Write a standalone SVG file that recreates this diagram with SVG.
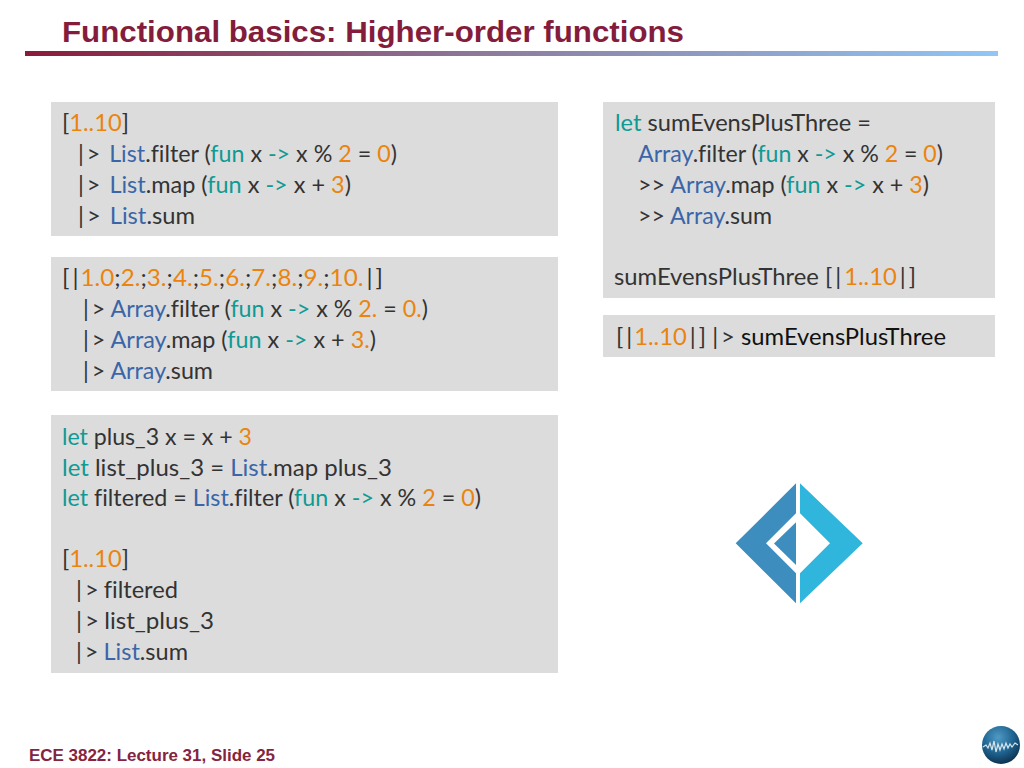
<svg xmlns="http://www.w3.org/2000/svg" width="1024" height="768" viewBox="0 0 1024 768">
<style>
.t{font-family:"Liberation Sans",Arial,sans-serif;font-weight:bold}
.c{font-family:Lato,"Open Sans",sans-serif;font-size:24px;fill:#333;font-variant-ligatures:none}
.b{fill:#dcdcdc}
.n{fill:#ea840f}.k{fill:#0f9a94}.m{fill:#3a66a8}.d{fill:#111}
</style>
<defs>
<linearGradient id="rule"><stop offset="0" stop-color="#8b1a3a"/><stop offset="0.5" stop-color="#8d7fa2"/><stop offset="1" stop-color="#90c6f6"/></linearGradient>
<radialGradient id="globe" cx="0.42" cy="0.3" r="0.75"><stop offset="0" stop-color="#4f9ac4"/><stop offset="0.55" stop-color="#1f6390"/><stop offset="1" stop-color="#0a2c46"/></radialGradient>
</defs>
<rect width="1024" height="768" fill="#fff"/>
<g id="title">
<text class="t" x="62" y="42" font-size="30" fill="#841c3c" textLength="622" lengthAdjust="spacingAndGlyphs">Functional basics: Higher-order functions</text>
<rect x="25" y="51" width="973" height="5" fill="url(#rule)"/>
</g>
<g id="box1">
<rect class="b" x="51" y="102" width="507" height="134"/>
<text class="c" x="62" y="131" textLength="67" lengthAdjust="spacingAndGlyphs">[<tspan class="n">1..10</tspan>]</text>
<text class="c" x="78" y="162" textLength="319" lengthAdjust="spacingAndGlyphs">|<tspan dx="3">&gt;</tspan> <tspan class="m" dx="3">List</tspan>.filter (<tspan class="k">fun</tspan> x <tspan class="k">-&gt;</tspan> x % <tspan class="n">2</tspan> = <tspan class="n">0</tspan>)</text>
<text class="c" x="78" y="193" textLength="273" lengthAdjust="spacingAndGlyphs">|<tspan dx="3">&gt;</tspan> <tspan class="m" dx="3">List</tspan>.map (<tspan class="k">fun</tspan> x <tspan class="k">-&gt;</tspan> x + <tspan class="n">3</tspan>)</text>
<text class="c" x="78" y="224" textLength="117" lengthAdjust="spacingAndGlyphs">|<tspan dx="3">&gt;</tspan> <tspan class="m" dx="3">List</tspan>.sum</text>
</g>
<g id="box2">
<rect class="b" x="51" y="257" width="507" height="134"/>
<text class="c" x="62" y="286" textLength="321" lengthAdjust="spacingAndGlyphs">[<tspan dx="3">|</tspan><tspan class="n" dx="2">1.0</tspan>;<tspan class="n">2.</tspan>;<tspan class="n">3.</tspan>;<tspan class="n">4.</tspan>;<tspan class="n">5.</tspan>;<tspan class="n">6.</tspan>;<tspan class="n">7.</tspan>;<tspan class="n">8.</tspan>;<tspan class="n">9.</tspan>;<tspan class="n">10.</tspan><tspan dx="3">|</tspan><tspan dx="3">]</tspan></text>
<text class="c" x="83" y="317" textLength="345" lengthAdjust="spacingAndGlyphs">|<tspan dx="3">&gt;</tspan> <tspan class="m">Array</tspan>.filter (<tspan class="k">fun</tspan> x <tspan class="k">-&gt;</tspan> x % <tspan class="n">2.</tspan> = <tspan class="n">0.</tspan>)</text>
<text class="c" x="83" y="348" textLength="293" lengthAdjust="spacingAndGlyphs">|<tspan dx="3">&gt;</tspan> <tspan class="m">Array</tspan>.map (<tspan class="k">fun</tspan> x <tspan class="k">-&gt;</tspan> x + <tspan class="n">3.</tspan>)</text>
<text class="c" x="83" y="379" textLength="130" lengthAdjust="spacingAndGlyphs">|<tspan dx="3">&gt;</tspan> <tspan class="m">Array</tspan>.sum</text>
</g>
<g id="box3">
<rect class="b" x="51" y="415" width="507" height="258"/>
<text class="c" x="62" y="445" textLength="190" lengthAdjust="spacingAndGlyphs"><tspan class="k">let</tspan> plus_3 x = x + <tspan class="n">3</tspan></text>
<text class="c" x="62" y="476" textLength="330" lengthAdjust="spacingAndGlyphs"><tspan class="k">let</tspan> list_plus_3 = <tspan class="m">List</tspan>.map plus_3</text>
<text class="c" x="62" y="506" textLength="419" lengthAdjust="spacingAndGlyphs"><tspan class="k">let</tspan> filtered = <tspan class="m">List</tspan>.filter (<tspan class="k">fun</tspan> x <tspan class="k">-&gt;</tspan> x % <tspan class="n">2</tspan> = <tspan class="n">0</tspan>)</text>
<text class="c" x="62" y="567" textLength="67" lengthAdjust="spacingAndGlyphs">[<tspan class="n">1..10</tspan>]</text>
<text class="c" x="76" y="598" textLength="102" lengthAdjust="spacingAndGlyphs">|<tspan dx="3">&gt;</tspan> <tspan dx="-1">filtered</tspan></text>
<text class="c" x="76" y="629" textLength="138" lengthAdjust="spacingAndGlyphs">|<tspan dx="3">&gt;</tspan> <tspan dx="-1">list_plus_3</tspan></text>
<text class="c" x="76" y="660" textLength="112" lengthAdjust="spacingAndGlyphs">|<tspan dx="3">&gt;</tspan> <tspan class="m" dx="-1">List</tspan>.sum</text>
</g>
<g id="box4">
<rect class="b" x="603" y="102" width="392" height="196"/>
<text class="c" x="615" y="131" textLength="256" lengthAdjust="spacingAndGlyphs"><tspan class="k">let</tspan> sumEvensPlusThree =</text>
<text class="c" x="638" y="162" textLength="305" lengthAdjust="spacingAndGlyphs"><tspan class="m">Array</tspan>.filter (<tspan class="k">fun</tspan> x <tspan class="k">-&gt;</tspan> x % <tspan class="n">2</tspan> = <tspan class="n">0</tspan>)</text>
<text class="c" x="638" y="193" textLength="291" lengthAdjust="spacingAndGlyphs">&gt;&gt; <tspan class="m">Array</tspan>.map (<tspan class="k">fun</tspan> x <tspan class="k">-&gt;</tspan> x + <tspan class="n">3</tspan>)</text>
<text class="c" x="638" y="224" textLength="134" lengthAdjust="spacingAndGlyphs">&gt;&gt; <tspan class="m">Array</tspan>.sum</text>
<text class="c" x="614" y="285" textLength="302" lengthAdjust="spacingAndGlyphs">sumEvensPlusThree [<tspan dx="3">|</tspan><tspan class="n" dx="3">1..10</tspan><tspan dx="3">|</tspan><tspan dx="3">]</tspan></text>
</g>
<g id="box5">
<rect class="b" x="603" y="315" width="392" height="42"/>
<text class="c" x="616" y="345" textLength="330" lengthAdjust="spacingAndGlyphs">[<tspan dx="3">|</tspan><tspan class="n" dx="2">1..10</tspan><tspan dx="3">|</tspan><tspan dx="3">]</tspan> |<tspan dx="3">&gt;</tspan> <tspan class="d">sumEvensPlusThree</tspan></text>
</g>
<g id="fsharp-logo">
<path fill="#3d8ebf" d="M796 483.3L735.7 543.3L796 603.3V573.3L766 543.3L796 513.3Z"/>
<path fill="#3d8ebf" d="M796 522.3L774 543.5L796 565Z"/>
<path fill="#30b5dc" d="M800 483.3L862.7 543.3L800 603.3V573.3L830 543.3L800 513.3Z"/>
</g>
<g id="footer">
<text class="t" x="29" y="761" font-size="16" fill="#842440" textLength="246" lengthAdjust="spacingAndGlyphs">ECE 3822: Lecture 31, Slide 25</text>
</g>
<g id="globe-logo">
<circle cx="1001" cy="745" r="19" fill="url(#globe)"/>
<path fill="none" stroke="#d8e4ea" stroke-width="1.2" d="M983 747L986 745L988 748L990 743L992 750L994 741L996 752L998 744L1000 750L1002 744L1004 749L1006 743L1008 748L1010 744L1012 747L1015 743L1018 745"/>
</g>
</svg>
